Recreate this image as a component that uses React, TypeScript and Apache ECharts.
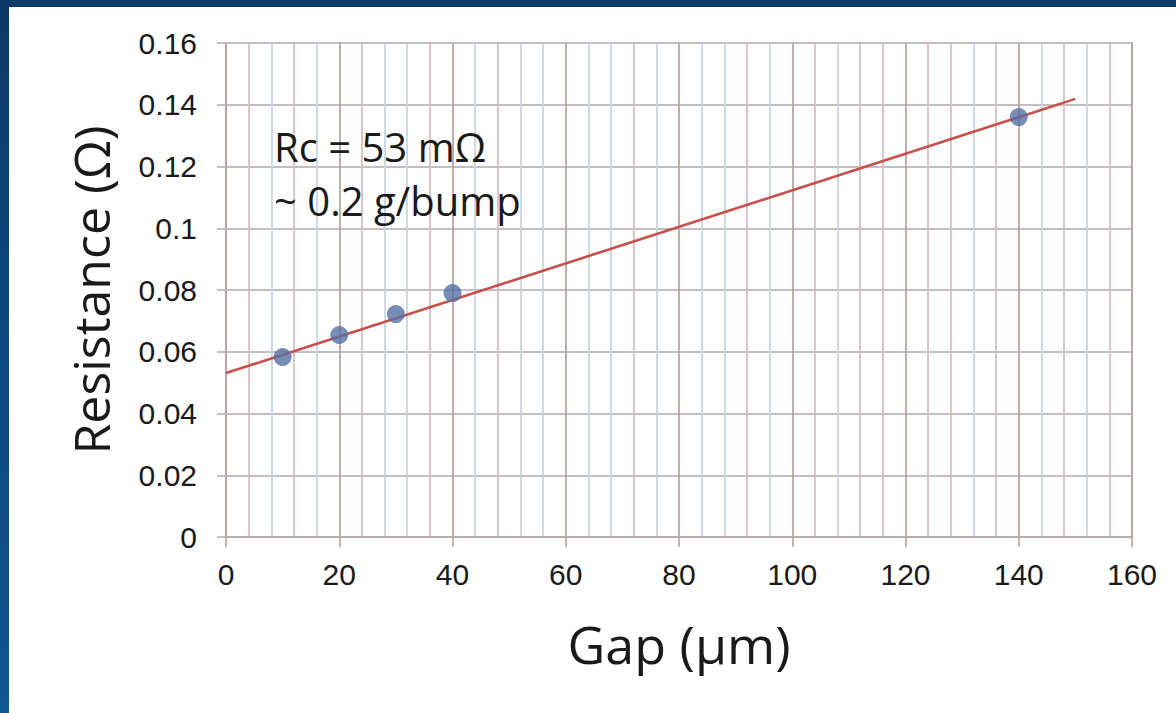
import React, { useEffect, useRef } from "react";
import * as echarts from "echarts";

// ---- data ----
const gapUm = [10, 20, 30, 40, 140];
const resistanceOhm = [0.0583, 0.0654, 0.0722, 0.079, 0.136];
const fitX = [0, 150];
const fitY = [0.0531, 0.1419];
const xTicks = [0, 20, 40, 60, 80, 100, 120, 140, 160];
const yTicks = [0, 0.02, 0.04, 0.06, 0.08, 0.1, 0.12, 0.14, 0.16];
const noteLines = ["Rc = 53 mΩ", "~ 0.2 g/bump"];
const xTitle = "Gap (μm)";
const yTitle = "Resistance (Ω)";

// grid line colour cycle for the 4-µm vertical grid (0..160)
const M = "#bba4a4";
const B = "#d6c0c0";
const L = "#c6d6e3";
const vGridColors = [
  M, B, L, B, L, M, B, L, L, B, M, L, B, L, L, M, L, L, B, L, M,
  L, L, B, L, M, B, L, B, B, M, B, B, L, B, M, L, B, L, B, M,
];

export default function App() {
  const ref = useRef<HTMLDivElement>(null);
  useEffect(() => {
    if (!ref.current) return;
    const chart = echarts.init(ref.current, null, { renderer: "svg" });
    const numFont = "'Liberation Sans', Arial, sans-serif";
    const textFont = "'Open Sans', sans-serif";
    chart.setOption({
      animation: false,
      backgroundColor: "#ffffff",
      grid: {
        left: 226,
        right: 44,
        top: 43,
        bottom: 176,
        show: true,
        borderColor: "#bfa9a9",
        borderWidth: 1.6,
        backgroundColor: "transparent",
      },
      xAxis: [
        {
          type: "value",
          min: xTicks[0],
          max: xTicks[xTicks.length - 1],
          interval: xTicks[1] - xTicks[0],
          name: xTitle,
          nameLocation: "middle",
          nameGap: 80,
          nameTextStyle: { fontFamily: textFont, fontSize: 52, color: "#1a1a1a" },
          axisLine: { show: true, lineStyle: { color: "#bba4a4", width: 1.6 } },
          axisTick: { show: true, inside: false, length: 10, lineStyle: { color: "#b5a0a0", width: 1.6 } },
          axisLabel: { margin: 22, fontFamily: numFont, fontSize: 30, color: "#1a1a1a" },
          splitLine: { show: false },
          z: 3,
        },
        {
          type: "value",
          min: 0,
          max: 160,
          interval: 4,
          axisLine: { show: false },
          axisTick: { show: false },
          axisLabel: { show: false },
          splitLine: { show: true, lineStyle: { color: vGridColors, width: 1.8 } },
        },
      ],
      yAxis: {
        type: "value",
        min: yTicks[0],
        max: yTicks[yTicks.length - 1],
        interval: 0.02,
        name: yTitle,
        nameLocation: "middle",
        nameGap: 110,
        nameTextStyle: { fontFamily: textFont, fontSize: 50, color: "#1a1a1a" },
        axisLine: { show: true, lineStyle: { color: "#bba4a4", width: 1.6 } },
        axisTick: { show: true, inside: false, length: 9, lineStyle: { color: "#c2b8bc", width: 1.8 } },
        axisLabel: {
          margin: 29,
          fontFamily: numFont,
          fontSize: 30,
          color: "#1a1a1a",
          formatter: (v: number) => String(parseFloat(v.toFixed(2))),
        },
        splitLine: { show: true, lineStyle: { color: "#c4bec4", width: 1.8 } },
      },
      graphic: [
        {
          type: "rect",
          left: 0,
          top: 0,
          shape: { width: 1176, height: 7 },
          style: { fill: "#0b3a69" },
          z: 10,
        },
        {
          type: "rect",
          left: 0,
          top: 0,
          shape: { width: 9, height: 713 },
          style: {
            fill: new echarts.graphic.LinearGradient(0, 0, 0, 1, [
              { offset: 0, color: "#0b3a69" },
              { offset: 1, color: "#0d5792" },
            ]),
          },
          z: 10,
        },
        {
          type: "text",
          left: 274,
          top: 126,
          style: {
            text: noteLines[0],
            font: `40px ${textFont}`,
            fill: "#1a1a1a",
          },
          z: 5,
        },
        {
          type: "text",
          left: 274,
          top: 180,
          style: {
            text: noteLines[1],
            font: `40px ${textFont}`,
            fill: "#1a1a1a",
          },
          z: 5,
        },
      ],
      series: [
        {
          type: "line",
          xAxisIndex: 0,
          data: fitX.map((x, i) => [x, fitY[i]]),
          showSymbol: false,
          lineStyle: { color: "#c8504b", width: 2.6 },
          z: 4,
        },
        {
          type: "scatter",
          xAxisIndex: 0,
          data: gapUm.map((x, i) => [x, resistanceOhm[i]]),
          symbolSize: 18,
          itemStyle: { color: "#5670a2" },
          z: 5,
        },
      ],
    });
    return () => chart.dispose();
  }, []);
  return (
    <div
      ref={ref}
      style={{ position: "fixed", left: 0, top: 0, width: 1176, height: 713 }}
    />
  );
}
